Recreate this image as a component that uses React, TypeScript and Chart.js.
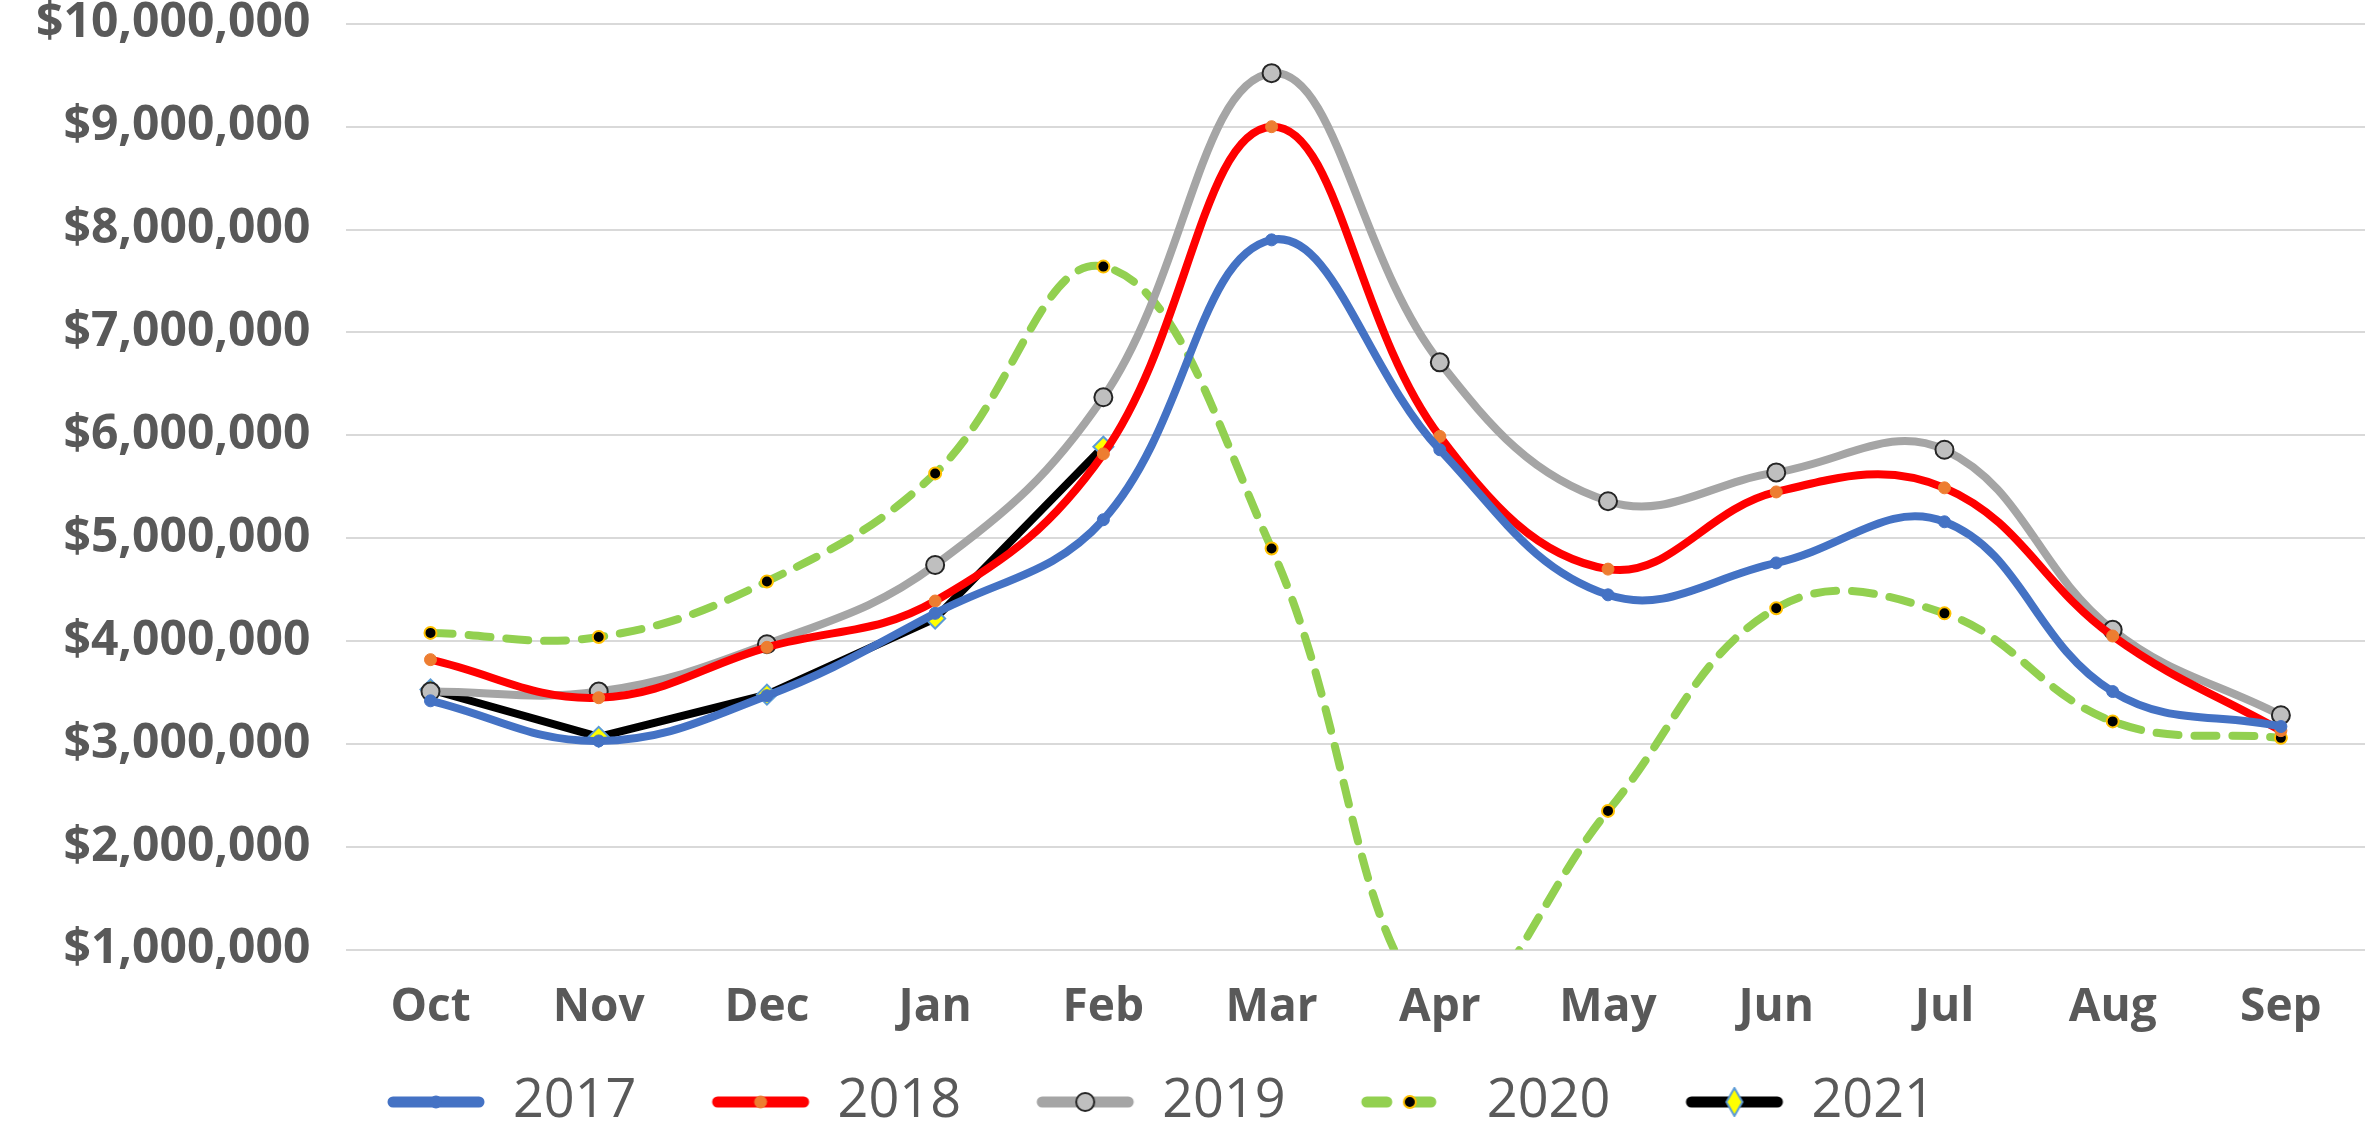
import React, { useEffect, useRef } from 'react';
import { Chart, registerables } from 'chart.js';

Chart.register(...registerables);

const months = ['Oct', 'Nov', 'Dec', 'Jan', 'Feb', 'Mar', 'Apr', 'May', 'Jun', 'Jul', 'Aug', 'Sep'];
const y2017 = [3.42, 3.03, 3.47, 4.27, 5.18, 7.9, 5.86, 4.45, 4.76, 5.16, 3.51, 3.17];
const y2018 = [3.82, 3.45, 3.94, 4.39, 5.82, 9.0, 5.99, 4.7, 5.45, 5.49, 4.05, 3.13];
const y2019 = [3.51, 3.51, 3.97, 4.74, 6.37, 9.52, 6.71, 5.36, 5.64, 5.86, 4.11, 3.28];
const y2020 = [4.08, 4.04, 4.58, 5.63, 7.64, 4.9, 0.4, 2.35, 4.32, 4.27, 3.22, 3.06];
const y2021 = [3.53, 3.07, 3.48, 4.22, 5.89];

const M = 1000000;
const toDollars = (a: number[]) => a.map((v) => v * M);

type Series = {
  label: string; data: number[]; color: string; dash: number[]; tension: number;
  pStyle: string; pRadius: number; pFill: string; pBorder: string; pBorderW: number;
};

const series: Series[] = [
  { label: '2017', data: y2017, color: '#4472c4', dash: [], tension: 0.4, pStyle: 'circle', pRadius: 6, pFill: '#4472c4', pBorder: '#4472c4', pBorderW: 1 },
  { label: '2018', data: y2018, color: '#ff0000', dash: [], tension: 0.4, pStyle: 'circle', pRadius: 6, pFill: '#ed7d31', pBorder: '#ed7d31', pBorderW: 1 },
  { label: '2019', data: y2019, color: '#a5a5a5', dash: [], tension: 0.4, pStyle: 'circle', pRadius: 9, pFill: '#bfbfbf', pBorder: '#262626', pBorderW: 2 },
  { label: '2020', data: y2020, color: '#92d050', dash: [22, 16], tension: 0.4, pStyle: 'circle', pRadius: 6, pFill: '#000000', pBorder: '#ffc000', pBorderW: 2 },
  { label: '2021', data: y2021, color: '#000000', dash: [], tension: 0, pStyle: 'rectRot', pRadius: 10, pFill: '#ffff00', pBorder: '#5b9bd5', pBorderW: 2 },
];

function legendIcon(s: Series): HTMLCanvasElement {
  const c = document.createElement('canvas');
  c.width = 100; c.height = 30;
  const ctx = c.getContext('2d')!;
  ctx.strokeStyle = s.color;
  ctx.lineWidth = 11;
  ctx.lineCap = 'round';
  ctx.setLineDash(s.dash.length ? [20, 24] : []);
  ctx.beginPath();
  ctx.moveTo(7, 15); ctx.lineTo(93, 15);
  ctx.stroke();
  ctx.setLineDash([]);
  ctx.fillStyle = s.pFill;
  ctx.strokeStyle = s.pBorder;
  ctx.lineWidth = s.pBorderW;
  ctx.beginPath();
  if (s.pStyle === 'rectRot') {
    ctx.moveTo(50, 15 - s.pRadius * 1.4); ctx.lineTo(50 + s.pRadius * 0.8, 15);
    ctx.lineTo(50, 15 + s.pRadius * 1.4); ctx.lineTo(50 - s.pRadius * 0.8, 15);
    ctx.closePath();
  } else {
    ctx.arc(50, 15, s.pRadius, 0, Math.PI * 2);
  }
  ctx.fill(); ctx.stroke();
  return c;
}

const App: React.FC = () => {
  const ref = useRef<HTMLCanvasElement | null>(null);

  useEffect(() => {
    document.body.style.margin = '0';
    if (!ref.current) return;
    const icons = series.map(legendIcon);
    const chart = new Chart(ref.current, {
      type: 'line',
      data: {
        labels: months,
        datasets: series.map((s) => ({
          label: s.label,
          data: toDollars(s.data),
          borderColor: s.color,
          backgroundColor: s.color,
          borderWidth: 8,
          borderDash: s.dash,
          borderCapStyle: 'round' as const,
          tension: s.tension,
          pointStyle: s.pStyle as any,
          pointRadius: s.pRadius,
          pointBackgroundColor: s.pFill,
          pointBorderColor: s.pBorder,
          pointBorderWidth: s.pBorderW,
        })),
      },
      options: {
        responsive: false,
        animation: false,
        layout: { padding: 0 },
        plugins: {
          tooltip: { enabled: false },
          legend: {
            position: 'bottom',
            labels: {
              usePointStyle: true,
              pointStyleWidth: 100,
              boxHeight: 30,
              padding: 18,
              color: '#595959',
              font: { family: 'Open Sans', size: 54, weight: 'normal' },
              generateLabels: () =>
                series.map((s, i) => ({
                  text: s.label + '    ',
                  datasetIndex: i,
                  pointStyle: icons[i],
                  fillStyle: s.color,
                  strokeStyle: s.color,
                  lineWidth: 0,
                  hidden: false,
                  fontColor: '#595959',
                })),
            },
          },
        },
        scales: {
          x: {
            offset: true,
            grid: { display: false },
            border: { display: false },
            ticks: { color: '#595959', font: { family: 'Open Sans', size: 46, weight: 'bold' }, padding: 22 },
          },
          y: {
            min: 1 * M,
            max: 10 * M,
            border: { display: false },
            grid: { color: '#d9d9d9', lineWidth: 2, drawTicks: false },
            ticks: {
              stepSize: M,
              padding: 36,
              color: '#595959',
              font: { family: 'Open Sans', size: 48, weight: 'bold' },
              callback: (v: any) => '$' + Number(v).toLocaleString('en-US'),
            },
          },
        },
      },
    });
    return () => chart.destroy();
  }, []);

  return (
    <div style={{ width: 2377, height: 1139, overflow: 'hidden' }}>
      <canvas ref={ref} width={2377} height={1180} style={{ display: 'block', marginTop: -41 }} />
    </div>
  );
};

export default App;
